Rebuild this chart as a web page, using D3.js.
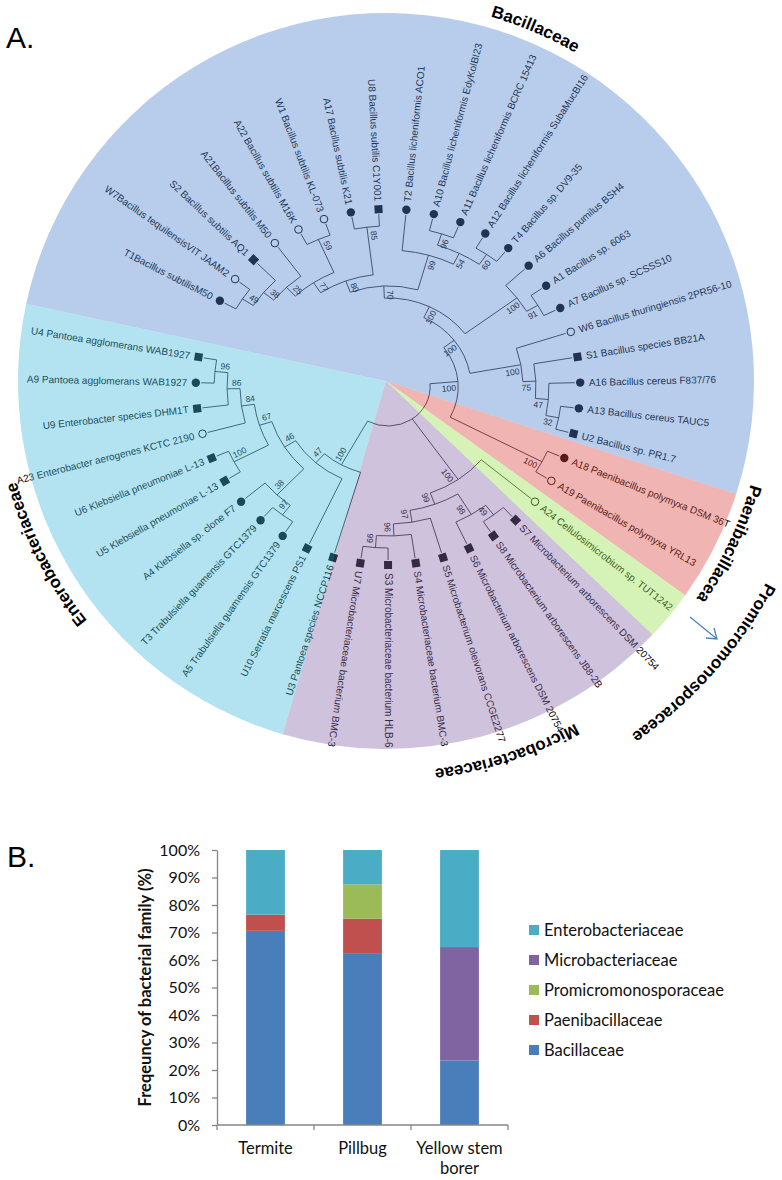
<!DOCTYPE html>
<html><head><meta charset="utf-8">
<script src="https://cdn.jsdelivr.net/npm/d3@7"></script>
<style>body{margin:0;background:#fff}svg{display:block}</style>
</head><body>
<svg id="c" width="782" height="1180"></svg>
<script>
// ================= DATA : A. phylogenetic tree =================
const treeNewick = "((((((((((T1,W7)49,S2)38,A21)25,(A22,W1)59)77,(A17,U8)85)80,(T2,((A10,A11)96,(A12,T4)60)54)99)70,(A6,(A1,A7)91)100)100,(W6,(S1,(A16,(A13,U2)32)47)75)100)100,(A18,A19)100)100,(A24,(((S7,S8)49,S6)98,(S5,(S4,(S3,U7)99)96)97)99)100,(U3,(U10,(((A5,T3)97,A4)38,((U5,U6)100,(A23,(U9,(A9,U4)96)86)84)67)46)47)100);";

const leafIds = ["T1","W7","S2","A21","A22","W1","A17","U8","T2","A10","A11","A12","T4","A6","A1","A7","W6","S1","A16","A13","U2",
  "A18","A19","A24","S7","S8","S6","S5","S4","S3","U7","U3","U10","A5","T3","A4","U5","U6","A23","U9","A9","U4"];
const leafNames = ["T1Bacillus subtilisM50","W7Bacillus tequilensisVIT JAAM2","S2 Bacillus subtilis AQ1","A21Bacillus subtilis M50",
  "A22 Bacillus subtilis M16K","W1 Bacillus subtilis KL-073","A17 Bacillus subtilis K21","U8 Bacillus subtilis C1Y001",
  "T2 Bacillus licheniformis ACO1","A10 Bacillus licheniformis EdyKolBI23","A11 Bacillus licheniformis BCRC 15413",
  "A12 Bacillus licheniformis SubaMucBI16","T4 Bacillus sp. DV9-35","A6 Bacillus pumilus BSH4","A1 Bacillus sp. 6063",
  "A7 Bacillus sp. SCSSS10","W6 Bacillus thuringiensis 2PR56-10","S1 Bacillus species BB21A","A16 Bacillus cereus F837/76",
  "A13 Bacillus cereus TAUC5","U2 Bacillus sp. PR1.7","A18 Paenibacillus polymyxa DSM 36T","A19 Paenibacillus polymyxa YRL13",
  "A24 Cellulosimicrobium sp. TUT1242","S7 Microbacterium arborescens DSM 20754","S8 Microbacterium arborescens JB8-2B",
  "S6 Microbacterium arborescens DSM 20754","S5 Microbacterium oleivorans CCGE2277","S4 Microbacteriaceae bacterium BMC-3",
  "S3 Microbacteriaceae bacterium HLB-6","U7 Microbacteriaceae bacterium BMC-3","U3 Pantoea species NCCP116",
  "U10 Serratia marcescens PS1","A5 Trabulsiella guamensis GTC1379","T3 Trabulsiella guamensis GTC1379",
  "A4 Klebsiella sp. clone F7","U5 Klebsiella pneumoniae L-13","U6 Klebsiella pneumoniae L-13",
  "A23 Enterobacter aerogenes KCTC 2190","U9 Enterobacter species DHM1T","A9 Pantoea agglomerans WAB1927",
  "U4 Pantoea agglomerans WAB1927"];
// fc = filled circle, oc = open circle, sq = filled square
const leafMarkers = ["fc","oc","sq","oc","oc","oc","fc","sq","fc","fc","fc","fc","fc","fc","fc","fc","oc","sq","fc","fc","sq",
  "fc","oc","oc","sq","sq","sq","sq","sq","sq","sq","sq","sq","fc","fc","fc","sq","sq","oc","sq","fc","sq"];

const treeFamilies = ["Bacillaceae","Paenibacillacea","Promicromonosporaceae","Microbacteriaceae","Enterobacteriaceae"];
const treeFamilyStartDeg = [192.1, 17.9, 35.6, 43.6, 106.3];
const treeFamilyEndDeg   = [377.9, 35.6, 43.6, 106.3, 192.1];

// ================= DATA : B. stacked bars =================
const categories = ["Termite","Pillbug","Yellow stem borer"];
const barFamilies = ["Bacillaceae","Paenibacillaceae","Promicromonosporaceae","Microbacteriaceae","Enterobacteriaceae"];
const bacillaceae           = [70.6, 62.5, 23.5];
const paenibacillaceae      = [5.9, 12.5, 0];
const promicromonosporaceae = [0, 12.5, 0];
const microbacteriaceae     = [0, 0, 41.2];
const enterobacteriaceae    = [23.5, 12.5, 35.3];
const yTicks = [0,10,20,30,40,50,60,70,80,90,100];

// ================= STYLE / LAYOUT =================
const familyColors = {Bacillaceae:"#4E82CE",Paenibacillacea:"#D9473E",
  Promicromonosporaceae:"#96E04A",Microbacteriaceae:"#8466AA",Enterobacteriaceae:"#41B9D9"};
const barColors = {Bacillaceae:"#4A7EBB",Paenibacillaceae:"#C0504D",Promicromonosporaceae:"#9BBB59",
  Microbacteriaceae:"#8064A2",Enterobacteriaceae:"#4BACC6"};
const famLabelLayout = {Bacillaceae:[-67,379],Enterobacteriaceae:[153,383],Microbacteriaceae:[72,391],
  Paenibacillacea:[25.4,379],Promicromonosporaceae:[41.6,430]};

const svg = d3.select("#c");
svg.append("rect").attr("width",782).attr("height",1180).attr("fill","#fff");
const TF = "'Liberation Sans', Arial, sans-serif";

// ---------- Newick parser ----------
function parseNewick(s){
  let i=0;
  function node(){
    const n={};
    if(s[i]==="("){
      n.children=[]; i++;
      while(true){ n.children.push(node()); if(s[i]===","){i++;continue;} break; }
      i++;
    }
    let lab=""; while(i<s.length && !",();".includes(s[i])) lab+=s[i++];
    if(n.children) n.boot=lab; else n.id=lab;
    return n;
  }
  return node();
}

// ---------- Tree geometry ----------
const cx=388, cy=387, sx=1.08;
const leafStartDeg=204.85, leafSpanDeg=349;
const rad=d=>d*Math.PI/180;
const P=(deg,r)=>{const a=rad(deg);return [cx+sx*r*Math.cos(a), cy+r*Math.sin(a)];};
const dirDeg=deg=>{const a=rad(deg);return Math.atan2(Math.sin(a), sx*Math.cos(a))*180/Math.PI;};
const norm=d=>((d%360)+360)%360;
const flipped=deg=>{const n=norm(deg);return n>100 && n<270;};

const root=d3.hierarchy(parseNewick(treeNewick));
d3.cluster().size([leafSpanDeg,1]).separation(()=>1)(root);
const ang=n=>leafStartDeg+n.x;
const radius=d3.scaleLinear().domain([0,0.1,1]).range([39,65,173]);

const gTree=svg.append("g");
const gLines=gTree.append("g").attr("fill","none").attr("stroke","#1a1a1a").attr("stroke-width",0.85);
root.descendants().forEach(n=>{
  const a=ang(n), r=radius(n.y);
  if(n.parent){
    const p0=P(a,radius(n.parent.y)), p1=P(a,r);
    gLines.append("path").attr("d",`M${p0}L${p1}`);
  }
  if(n.children){
    const a1=ang(n.children[0]), a2=ang(n.children[n.children.length-1]);
    const p0=P(a1,r), p1=P(a2,r);
    gLines.append("path").attr("d",`M${p0}A${sx*r},${r} 0 ${a2-a1>180?1:0} 1 ${p1}`);
  }
});

// leaves
const rLeaf=radius(1);
root.leaves().forEach(n=>{
  const k=leafIds.indexOf(n.data.id);
  const a=ang(n), rot=dirDeg(a), fl=flipped(a);
  const pm=P(a,rLeaf+5);
  const m=leafMarkers[k];
  if(m==="sq"){
    gTree.append("rect").attr("x",-4).attr("y",-4).attr("width",8).attr("height",8).attr("fill","#000")
      .attr("transform",`translate(${pm})rotate(${rot})`);
  } else {
    gTree.append("circle").attr("cx",pm[0]).attr("cy",pm[1]).attr("r",m==="fc"?4.2:3.8)
      .attr("fill",m==="fc"?"#000":"#fff").attr("stroke","#000").attr("stroke-width",m==="fc"?0:1);
  }
  const pt=P(a,rLeaf+13);
  gTree.append("text").attr("transform",`translate(${pt})rotate(${fl?rot+180:rot})`)
    .attr("text-anchor",fl?"end":"start").attr("dy","0.35em")
    .attr("font-family",TF).attr("font-size",10).attr("fill","#000").text(leafNames[k]);
});

// bootstrap values
root.descendants().forEach(n=>{
  if(!n.children || !n.parent || !n.data.boot) return;
  const a=ang(n), r=radius(n.y), rot=dirDeg(a), fl=flipped(a);
  const p=P(a,r-9), ar=rad(a);
  let t=[-sx*Math.sin(ar), Math.cos(ar)]; const L=Math.hypot(t[0],t[1]); t=[t[0]/L,t[1]/L];
  const q=[p[0]+t[0]*6, p[1]+t[1]*6];
  gTree.append("text").attr("transform",`translate(${q})rotate(${fl?rot+180:rot})`)
    .attr("text-anchor","middle").attr("dy","0.35em")
    .attr("font-family",TF).attr("font-size",8.5).attr("fill","#000").text(n.data.boot);
});

// coloured family wedges (semi-transparent over the tree)
const wc=[386,381];
const wedge=d3.arc().innerRadius(0).outerRadius(368);
treeFamilies.forEach((f,i)=>{
  svg.append("path").attr("transform",`translate(${wc})`)
    .attr("d",wedge({startAngle:rad(treeFamilyStartDeg[i]+90),endAngle:rad(treeFamilyEndDeg[i]+90)}))
    .attr("fill",familyColors[f]).attr("fill-opacity",0.4);
});

// curved family labels
const defs=svg.append("defs");
treeFamilies.forEach((f,i)=>{
  const [c,R]=famLabelLayout[f];
  const a1=rad(c-60), a2=rad(c+60);
  defs.append("path").attr("id","fp"+i)
    .attr("d",`M${wc[0]+R*Math.cos(a1)},${wc[1]+R*Math.sin(a1)}A${R},${R} 0 0 1 ${wc[0]+R*Math.cos(a2)},${wc[1]+R*Math.sin(a2)}`);
  svg.append("text").attr("font-family",TF).attr("font-weight","bold").attr("font-size",17).attr("fill","#000")
    .append("textPath").attr("href","#fp"+i).attr("startOffset","50%").attr("text-anchor","middle").text(f);
});

// arrow pointing at the Promicromonosporaceae wedge
svg.append("path").attr("d","M690,617L717,639M706,638L717,639L714,628")
  .attr("fill","none").attr("stroke","#4F81BD").attr("stroke-width",1.3);

svg.append("text").attr("x",6).attr("y",48).attr("font-family",TF).attr("font-size",30).text("A.");
svg.append("text").attr("x",7).attr("y",867).attr("font-family",TF).attr("font-size",30).text("B.");

// ================= B. stacked bar chart =================
const BF="Lato, 'Open Sans', sans-serif";
const rows=categories.map((c,i)=>({category:c,Bacillaceae:bacillaceae[i],Paenibacillaceae:paenibacillaceae[i],
  Promicromonosporaceae:promicromonosporaceae[i],Microbacteriaceae:microbacteriaceae[i],Enterobacteriaceae:enterobacteriaceae[i]}));
const x=d3.scaleBand().domain(categories).range([217,508]).paddingInner(0.6).paddingOuter(0.3);
const y=d3.scaleLinear().domain([0,100]).range([1125,850]);
const series=d3.stack().keys(barFamilies)(rows);

const gB=svg.append("g");
series.forEach(s=>{
  gB.append("g").attr("fill",barColors[s.key]).selectAll("rect").data(s).join("rect")
    .attr("x",d=>x(d.data.category)).attr("width",x.bandwidth())
    .attr("y",d=>y(d[1])).attr("height",d=>Math.max(0,y(d[0])-y(d[1])));
});

const yAx=gB.append("g").attr("transform","translate(217,0)")
  .call(d3.axisLeft(y).tickValues(yTicks).tickFormat(d=>d+"%").tickSize(5).tickSizeOuter(0).tickPadding(12));
yAx.selectAll("path,line").attr("stroke","#868686").attr("stroke-width",1.3);
yAx.selectAll("text").attr("font-family",BF).attr("font-size",16).attr("fill","#111");

// x axis line + boundary ticks
const step=x.step(), x0=x.range()[0];
gB.append("line").attr("x1",x0).attr("x2",x.range()[1]).attr("y1",y(0)).attr("y2",y(0)).attr("stroke","#868686").attr("stroke-width",1.3);
d3.range(categories.length+1).forEach(i=>{
  const xx=i===0?x0:x(categories[i-1])+x.bandwidth()/2+step/2;
  gB.append("line").attr("x1",xx).attr("x2",xx).attr("y1",y(0)).attr("y2",y(0)+5).attr("stroke","#868686").attr("stroke-width",1.3);
});
categories.forEach(c=>{
  const words=c.split(" ");
  const lines=words.length>2?[words.slice(0,2).join(" "),words.slice(2).join(" ")]:[c];
  const t=gB.append("text").attr("font-family",BF).attr("font-size",16.5).attr("fill","#111").attr("text-anchor","middle");
  lines.forEach((l,j)=>t.append("tspan").attr("x",x(c)+x.bandwidth()/2).attr("y",y(0)+29+j*20).text(l));
});

gB.append("text").attr("transform",`translate(151,${(y(0)+y(100))/2})rotate(-90)`).attr("text-anchor","middle")
  .attr("font-family",BF).attr("font-weight","bold").attr("font-size",16.5).attr("fill","#111")
  .text("Freqeuncy of bacterial family (%)");

// legend (reverse stack order)
const leg=gB.append("g");
barFamilies.slice().reverse().forEach((f,i)=>{
  const yy=930+i*30;
  leg.append("rect").attr("x",529).attr("y",yy-5).attr("width",10).attr("height",10).attr("fill",barColors[f]);
  leg.append("text").attr("x",544).attr("y",yy).attr("dy","0.35em").attr("font-family",BF).attr("font-size",16.5)
    .attr("fill","#111").text(f);
});
</script>
</body></html>
